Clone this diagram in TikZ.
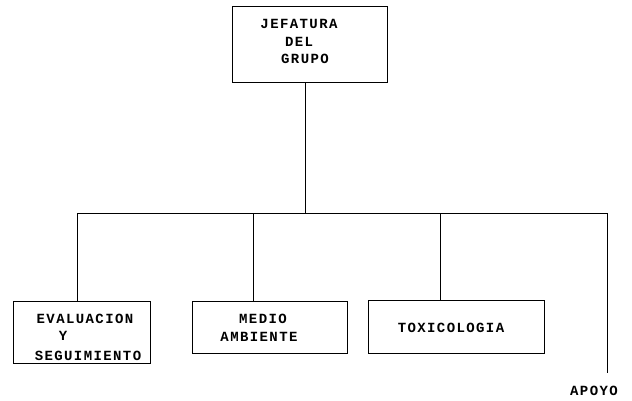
\documentclass[tikz,border=0pt]{standalone}
\usepackage{fontspec}
\newfontfamily\orgfont[LetterSpace=10]{Liberation Mono}
\begin{document}
\begin{tikzpicture}[x=1pt,y=-1pt,
  box/.style={draw,line width=1.1pt,rectangle,inner sep=0pt,anchor=north west},
  lbl/.style={font=\orgfont\bfseries\fontsize{14}{14}\selectfont,inner sep=0pt,anchor=center},
  conn/.style={line width=0.9pt}]
\useasboundingbox (0,0) rectangle (632,400);
% boxes
\node[box,minimum width=155pt,minimum height=76pt] (jef) at (232,6) {};
\node[box,minimum width=137pt,minimum height=62pt] (ev) at (13,301) {};
\node[box,minimum width=155pt,minimum height=52pt] (med) at (192,301) {};
\node[box,minimum width=176pt,minimum height=53pt] (tox) at (368,300) {};
% labels
\node[lbl] (j1) at (299,24) {JEFATURA};
\node[lbl] (j2) at (299,42) {DEL};
\node[lbl] (j3) at (305,59) {GRUPO};
\node[lbl] (e1) at (85,319) {EVALUACION};
\node[lbl] (e2) at (63,336) {Y};
\node[lbl] (e3) at (88,356) {SEGUIMIENTO};
\node[lbl] (m1) at (263,319) {MEDIO};
\node[lbl] (m2) at (259,337) {AMBIENTE};
\node[lbl] (t1) at (451,328) {TOXICOLOGIA};
\node[lbl] (ap) at (594,391) {APOYO};
% connectors
\coordinate (bl) at (77,213);
\coordinate (bc) at (305,213);
\coordinate (bm) at (253,213);
\coordinate (bt) at (440,213);
\coordinate (br) at (607,213);
\coordinate (apend) at (607,373);
\draw[conn] (bc |- jef.south) -- (bc);
\draw[conn] (bl) -- (br);
\draw[conn] (bl) -- (bl |- ev.north);
\draw[conn] (bm) -- (bm |- med.north);
\draw[conn] (bt) -- (bt |- tox.north);
\draw[conn] (br) -- (apend);
\end{tikzpicture}
\end{document}
